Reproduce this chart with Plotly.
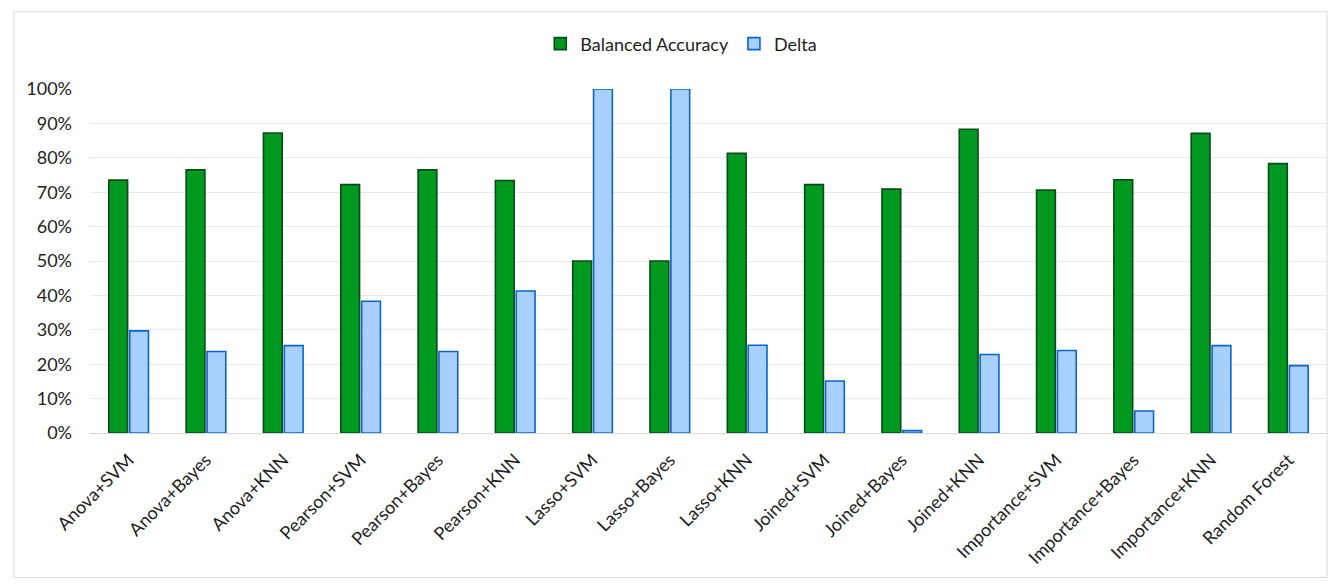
import plotly.graph_objects as go

methods = [
    "Anova+SVM", "Anova+Bayes", "Anova+KNN",
    "Pearson+SVM", "Pearson+Bayes", "Pearson+KNN",
    "Lasso+SVM", "Lasso+Bayes", "Lasso+KNN",
    "Joined+SVM", "Joined+Bayes", "Joined+KNN",
    "Importance+SVM", "Importance+Bayes", "Importance+KNN",
    "Random Forest",
]
balanced_accuracy = [0.735, 0.765, 0.872, 0.722, 0.765, 0.734, 0.50, 0.50,
                     0.813, 0.722, 0.709, 0.883, 0.706, 0.736, 0.871, 0.783]
delta = [0.297, 0.237, 0.254, 0.383, 0.237, 0.413, 1.0, 1.0,
         0.255, 0.151, 0.007, 0.228, 0.240, 0.064, 0.254, 0.196]
y_ticks = [i / 10 for i in range(11)]

FONT = "Lato, 'Open Sans', sans-serif"

fig = go.Figure()
fig.add_trace(go.Bar(
    name="Balanced Accuracy", x=methods, y=balanced_accuracy,
    marker=dict(color="#00991F", line=dict(color="#0B4A1A", width=1.6)),
))
fig.add_trace(go.Bar(
    name="Delta", x=methods, y=delta,
    marker=dict(color="#A8D0FF", line=dict(color="#0A66CC", width=1.6)),
))

fig.update_layout(
    width=1341, height=585,
    margin=dict(l=90, r=14, t=89, b=152),
    paper_bgcolor="white", plot_bgcolor="white",
    barmode="group", bargap=0.46, bargroupgap=0.1,
    font=dict(family=FONT, size=18, color="#1E1E1E"),
    showlegend=True,
    legend=dict(orientation="h", x=0.478, xanchor="center", y=1.131, yanchor="middle",
                font=dict(size=18), itemwidth=30, traceorder="normal"),
    shapes=[dict(type="rect", xref="paper", yref="paper",
                 x0=-0.0615, x1=1.0, y0=-0.42, y1=1.225,
                 line=dict(color="#DDDDDD", width=1), fillcolor="rgba(0,0,0,0)",
                 layer="below")],
)
fig.update_yaxes(
    range=[0, 1.0], tickvals=y_ticks, tickformat=".0%",
    showgrid=True, gridcolor="#E8E8E8", gridwidth=1,
    zeroline=True, zerolinecolor="#D9D9D9", zerolinewidth=1,
    showline=False, ticks="", ticklabelstandoff=17,
    tickfont=dict(size=18),
)
fig.update_xaxes(
    tickangle=-45, showgrid=False, showline=False, ticks="",
    ticklabelstandoff=12, tickfont=dict(size=18),
)

fig.write_html("out.html")
